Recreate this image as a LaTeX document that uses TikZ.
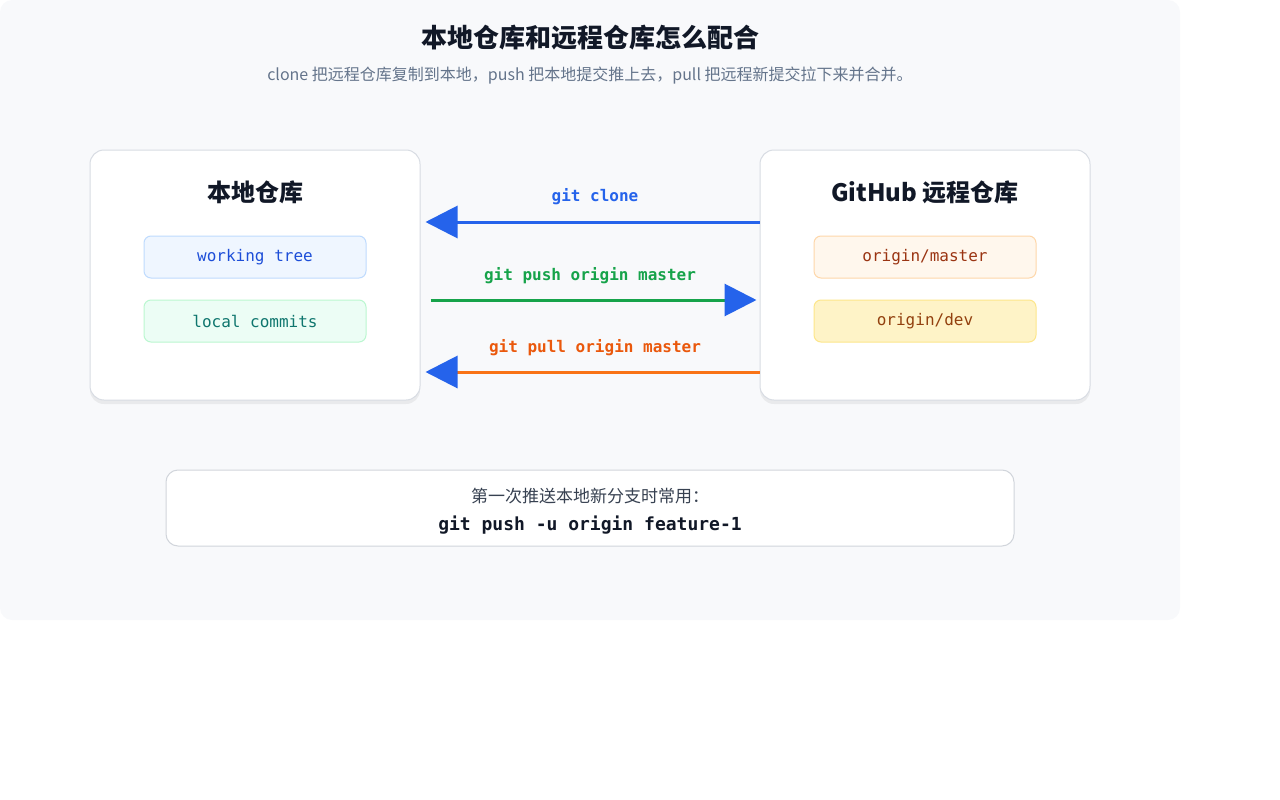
\documentclass[tikz,border=0pt]{standalone}
\usepackage{fontspec}
\setmainfont{Noto Sans CJK SC}
\newfontfamily\codefont{DejaVu Sans Mono}
\usetikzlibrary{positioning}
\usetikzlibrary{arrows.meta}
\usetikzlibrary{shadows}
\definecolor{panelbg}{HTML}{F8F9FB}
\definecolor{boxline}{HTML}{D8DCE3}
\definecolor{ink}{HTML}{111827}
\definecolor{subgray}{HTML}{64748B}
\definecolor{gitblue}{HTML}{2563EB}
\definecolor{gitgreen}{HTML}{16A34A}
\definecolor{gitorange}{HTML}{F97316}
\definecolor{pullorange}{HTML}{EA580C}
\definecolor{treefill}{HTML}{EFF6FF}
\definecolor{treeline}{HTML}{BFDBFE}
\definecolor{treetext}{HTML}{1D4ED8}
\definecolor{commitfill}{HTML}{ECFDF5}
\definecolor{commitline}{HTML}{BBF7D0}
\definecolor{committext}{HTML}{0F766E}
\definecolor{masterfill}{HTML}{FFF7ED}
\definecolor{masterline}{HTML}{FED7AA}
\definecolor{mastertext}{HTML}{9A3412}
\definecolor{devfill}{HTML}{FEF3C7}
\definecolor{devline}{HTML}{FDE68A}
\definecolor{devtext}{HTML}{92400E}
\definecolor{hintline}{HTML}{D1D5DB}
\definecolor{hinttext}{HTML}{374151}
\begin{document}
\begin{tikzpicture}[x=1pt,y=-1pt,
	repo/.style={draw=boxline, line width=1pt, fill=white, rounded corners=14pt, minimum width=330pt, minimum height=250pt, drop shadow={shadow xshift=0pt, shadow yshift=-4pt, opacity=0.12}},
	tag/.style={rounded corners=7pt, line width=1pt, minimum width=222pt, minimum height=42pt, font=\codefont\fontsize{16}{18}\selectfont},
	cmd/.style={font=\codefont\bfseries\fontsize{16}{18}\selectfont},
	flow/.style={line width=3pt, -{Triangle[length=32pt,width=32pt,color=gitblue]}}]
	\useasboundingbox (0,0) rectangle (1280,800);
	\fill[panelbg, rounded corners=12pt] (0,0) rectangle (1180,620);
	\node[font=\bfseries\fontsize{26}{30}\selectfont, text=ink](title) at (590,38){本地仓库和远程仓库怎么配合};
	\node[font=\fontsize{16}{20}\selectfont, text=subgray](subtitle) at (590,76){clone 把远程仓库复制到本地，push 把本地提交推上去，pull 把远程新提交拉下来并合并。};
	% repositories
	\node[repo](local) at (255,275){};
	\node[repo](remote) at (925,275){};
	\node[font=\bfseries\fontsize{24}{28}\selectfont, text=ink](localtitle) at (255,192){本地仓库};
	\node[font=\bfseries\fontsize{24}{28}\selectfont, text=ink](remotetitle) at (925,192){GitHub 远程仓库};
	\node[tag, fill=treefill, draw=treeline, text=treetext](tree) at (255,257){working tree};
	\node[tag, fill=commitfill, draw=commitline, text=committext](commits) at (255,321){local commits};
	\node[tag, fill=masterfill, draw=masterline, text=mastertext](master) at (925,257){origin/master};
	\node[tag, fill=devfill, draw=devline, text=devtext](dev) at (925,321){origin/dev};
	% commands
	\draw[flow, gitblue] ([yshift=53pt]remote.west) -- ([xshift=5pt,yshift=53pt]local.east);
	\draw[flow, gitgreen] ([xshift=10pt,yshift=-25pt]local.east) -- ([xshift=-3pt,yshift=-25pt]remote.west);
	\draw[flow, gitorange] ([yshift=-97pt]remote.west) -- ([xshift=5pt,yshift=-97pt]local.east);
	\node[cmd, text=gitblue](clone) at (595,197){git clone};
	\node[cmd, text=gitgreen](push) at (590,276){git push origin master};
	\node[cmd, text=pullorange](pull) at (595,348){git pull origin master};
	% hint
	\node[draw=hintline, line width=1pt, fill=white, rounded corners=12pt, minimum width=848pt, minimum height=76pt](hint) at (590,508){};
	\node[font=\fontsize{17}{20}\selectfont, text=hinttext](hintmsg) at (590,496){第一次推送本地新分支时常用：};
	\node[font=\codefont\bfseries\fontsize{18}{20}\selectfont, text=ink](hintcmd) at (590,525){git push -u origin feature-1};
\end{tikzpicture}
\end{document}
